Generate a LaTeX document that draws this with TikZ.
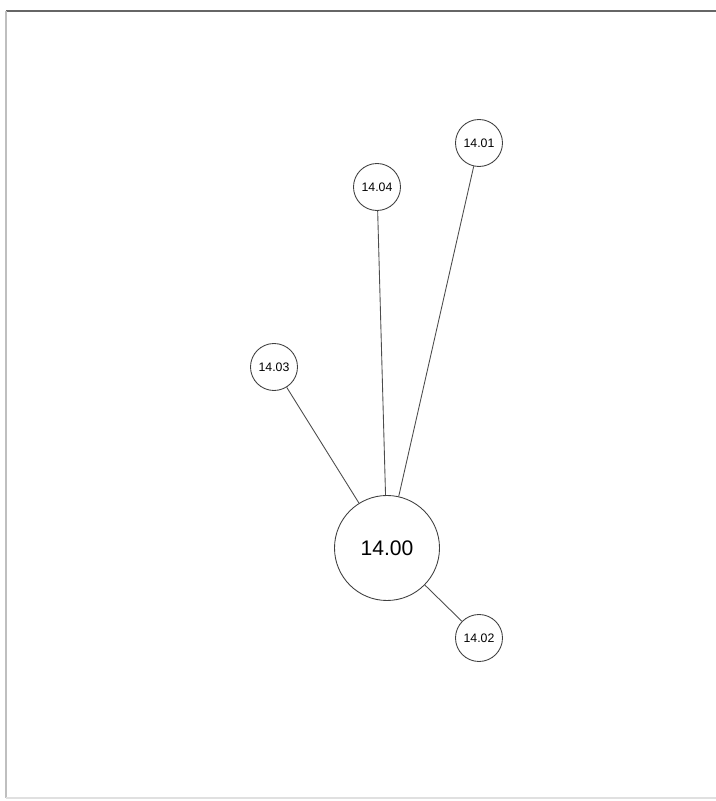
\documentclass[tikz,border=0pt]{standalone}
\usepackage{fontspec}
\setmainfont{Liberation Sans}

\begin{document}
\begin{tikzpicture}[
hub/.style={draw=black!75, circle, line width=0.5pt, minimum size=2.1cm, inner sep=0pt, font=\fontsize{12}{14}\selectfont},
leaf/.style={draw=black!75, circle, line width=0.5pt, minimum size=0.94cm, inner sep=0pt, font=\fontsize{7}{8}\selectfont},
edge/.style={draw=black!70, line width=0.5pt},
frame/.style={line width=0.8pt}
]
\useasboundingbox (0,0) rectangle (14.32,16.02);
\coordinate (tl) at (0.12,15.80);
\coordinate (tr) at (14.32,15.80);
\coordinate (bl) at (0.12,0.06);
\coordinate (br) at (14.32,0.06);
\draw[frame, black!60] (tl) -- (tr);
\draw[frame, black!25] (tl) -- (bl);
\draw[frame, black!12] (bl) -- (br);
\node[hub] (n00) at (7.74,5.06) {14.00};
\node[leaf] (n01) at (9.58,13.16) {14.01};
\node[leaf] (n04) at (7.54,12.28) {14.04};
\node[leaf] (n03) at (5.48,8.68) {14.03};
\node[leaf] (n02) at (9.58,3.26) {14.02};
\draw[edge] (n00) -- (n01);
\draw[edge] (n00) -- (n04);
\draw[edge] (n00) -- (n03);
\draw[edge] (n00) -- (n02);
\end{tikzpicture}
\end{document}
